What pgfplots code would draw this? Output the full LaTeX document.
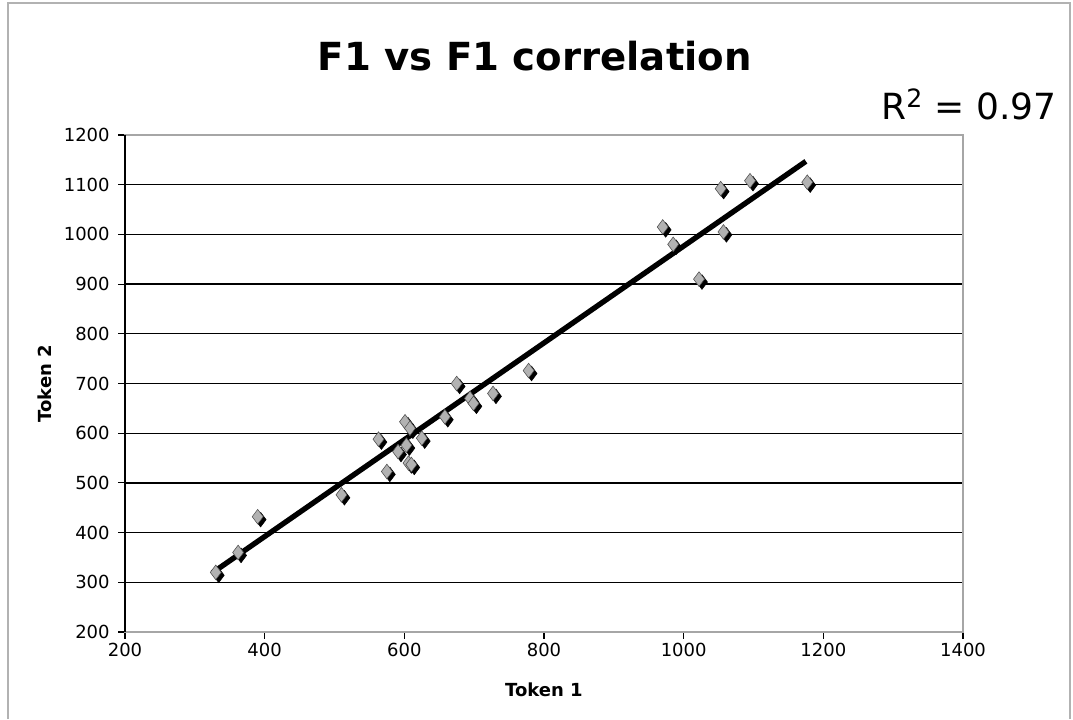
\documentclass[border=0pt]{standalone}
\usepackage{pgfplots}
\pgfplotsset{compat=1.18}
\usepackage{pgfplotstable}
\usepackage{fontspec}
\setmainfont{DejaVu Sans}

% token 1 vs token 2 (F1 values)
\pgfplotstableread{
x    y
330  320
362  360
390  432
510  476
563  588
575  523
591  563
601  623
603  576
606  540
610  537
608  610
625  590
658  633
675  700
694  670
699  660
727  680
778  726
970  1015
985  980
1022 910
1053 1092
1057 1005
1095 1108
1177 1105
}\tokens

\begin{document}
\begin{tikzpicture}
\begin{axis}[
  at={(0,0)}, anchor=south west,
  scale only axis,
  width=628.5pt, height=372.75pt,
  xmin=200, xmax=1400, ymin=200, ymax=1200,
  xtick={200,400,...,1400},
  ytick={200,300,...,1200},
  xtick pos=left, ytick pos=left,
  tick align=outside,
  major tick length=5pt,
  tick style={black, line width=0.8pt},
  ymajorgrids,
  grid style={black, line width=1pt},
  axis line style={gray!70, line width=0.8pt},
  /pgf/number format/assume math mode=true,
  /pgf/number format/1000 sep={},
  ticklabel style={font=\fontsize{13.5}{16}\selectfont},
  yticklabel style={xshift=-3pt},
  xlabel={Token 1}, ylabel={Token 2},
  label style={font=\bfseries\fontsize{13.5}{16}\selectfont},
  x label style={at={(axis description cs:0.5,-0.117)}, anchor=center},
  y label style={at={(axis description cs:-0.0955,0.5)}, anchor=center},
  title={F1 vs F1 correlation},
  title style={at={(axis description cs:0.489,1.143)}, anchor=center,
    font=\bfseries\fontsize{29}{34}\selectfont},
  clip=false,
]
% shadow of the markers
\addplot[only marks, mark=diamond*, mark size=5.5pt, black,
  mark options={xshift=2.2pt, yshift=-2.2pt}] table {\tokens};
\addplot[only marks, mark=diamond*, mark size=5.5pt,
  mark options={draw=black!70, fill=gray!60}] table {\tokens};
% linear trend line
\addplot[black, line width=4pt] coordinates {(325,319) (1175,1147)};
\draw[black, line width=0.8pt] (axis cs:200,200) -- (axis cs:200,1200);
\node[font=\fontsize{27}{32}\selectfont] at (axis description cs:1.007,1.062)
  {R\textsuperscript{2} = 0.97};
\end{axis}
\draw[gray!60, line width=1pt] (-117*0.75pt,-87*0.75pt) -- (-117*0.75pt,629*0.75pt)
  -- (945*0.75pt,629*0.75pt) -- (945*0.75pt,-87*0.75pt);
\pgfresetboundingbox
\path (-125*0.75pt,-87*0.75pt) rectangle (948*0.75pt,632*0.75pt);
\end{tikzpicture}
\end{document}
